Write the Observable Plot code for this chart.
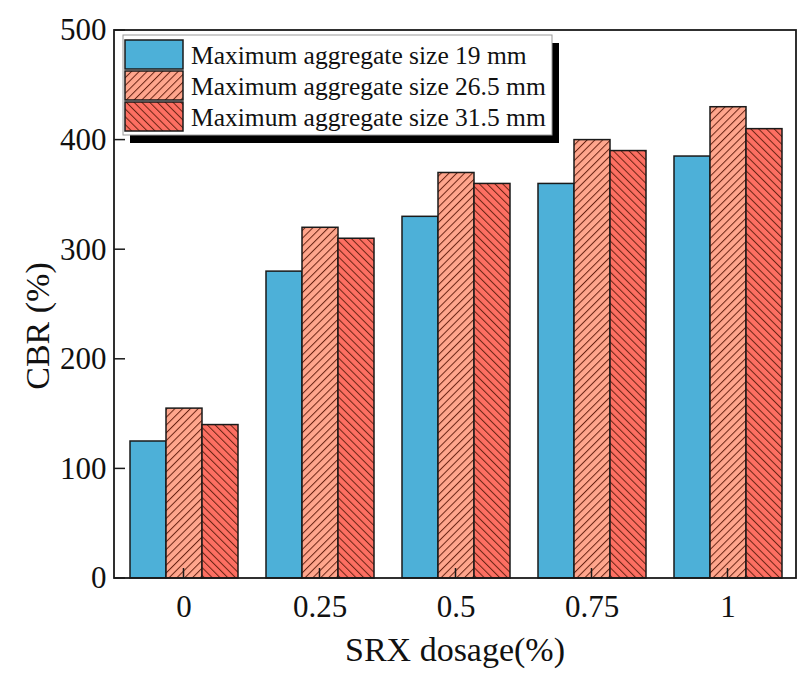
<!DOCTYPE html>
<html><head><meta charset="utf-8">
<script src="https://cdn.jsdelivr.net/npm/d3@7"></script>
<script src="https://cdn.jsdelivr.net/npm/@observablehq/plot@0.6"></script>
<style>body{margin:0;background:#fff}</style>
</head><body><div id="chart"></div>
<script>
const dosages = ["0", "0.25", "0.5", "0.75", "1"];
const seriesNames = ["Maximum aggregate size 19 mm", "Maximum aggregate size 26.5 mm", "Maximum aggregate size 31.5 mm"];
const cbr19 = [125, 280, 330, 360, 385];
const cbr265 = [155, 320, 370, 400, 430];
const cbr315 = [140, 310, 360, 390, 410];
const yTicks = [0, 100, 200, 300, 400, 500];
const seriesFills = ["#4db0d8", "url(#hatchA)", "url(#hatchB)"];
const xTitle = "SRX dosage(%)";
const yTitle = "CBR (%)";

const allSeries = [cbr19, cbr265, cbr315];
const data = [];
dosages.forEach((d, i) => allSeries.forEach((arr, j) => data.push({dosage: d, series: seriesNames[j], value: arr[i]})));

const W = 806, H = 674, ML = 114, MR = 10, MT = 30, MB = 96;
const FONT = "Liberation Serif, Times New Roman, serif";

const plot = Plot.plot({
  width: W, height: H,
  marginLeft: ML, marginRight: MR, marginTop: MT, marginBottom: MB,
  style: {fontFamily: FONT, fontSize: "31px", color: "#000", background: "#fff", overflow: "visible"},
  fx: {domain: dosages, paddingInner: 0.2, paddingOuter: 0.1, axis: "bottom", label: null, tickSize: 0, tickPadding: 16},
  x: {domain: seriesNames, padding: 0, axis: null},
  y: {domain: [0, 500], ticks: yTicks, tickSize: 0, tickPadding: 23, label: null},
  color: {domain: seriesNames, range: seriesFills},
  facet: {data, x: "dosage"},
  marks: [
    Plot.barY(data, {x: "series", y: "value", fill: "series", stroke: "#1a1a1a", strokeWidth: 1.5})
  ]
});
document.getElementById("chart").appendChild(plot);

const svg = d3.select(plot);
svg.selectAll("text").style("font-size", "31px").style("font-family", FONT).attr("fill", "#111");
const defs = svg.insert("defs", ":first-child");
function hatch(id, bg, angle) {
  const p = defs.append("pattern").attr("id", id).attr("patternUnits", "userSpaceOnUse")
    .attr("width", 5.5).attr("height", 5.5).attr("patternTransform", `rotate(${angle})`);
  p.append("rect").attr("width", 5.5).attr("height", 5.5).attr("fill", bg);
  p.append("line").attr("x1", 0.5).attr("y1", 0).attr("x2", 0.5).attr("y2", 5.5)
    .attr("stroke", "#6a2414").attr("stroke-width", 1);
}
hatch("hatchA", "#ffa68d", 45);
hatch("hatchB", "#fd6f62", -45);

const fx = plot.scale("fx"), y = plot.scale("y");
const g = svg.append("g");
// inward ticks
dosages.forEach(d => {
  const cx = fx.apply(d) + fx.bandwidth / 2;
  g.append("line").attr("x1", cx).attr("x2", cx).attr("y1", y.apply(0)).attr("y2", y.apply(0) - 10)
    .attr("stroke", "#1a1a1a").attr("stroke-width", 1.5);
});
yTicks.forEach(v => {
  g.append("line").attr("x1", ML).attr("x2", ML + 11).attr("y1", y.apply(v)).attr("y2", y.apply(v))
    .attr("stroke", "#1a1a1a").attr("stroke-width", 1.5);
});
// frame
g.append("rect").attr("x", ML).attr("y", MT).attr("width", W - ML - MR).attr("height", H - MT - MB)
  .attr("fill", "none").attr("stroke", "#1a1a1a").attr("stroke-width", 1.8);

// axis titles
svg.append("text").attr("x", (ML + W - MR) / 2).attr("y", 661).attr("text-anchor", "middle")
  .attr("font-family", FONT).attr("font-size", 34).attr("fill", "#111").text(xTitle);
svg.append("text").attr("transform", `translate(37,326) rotate(-90)`).attr("text-anchor", "middle")
  .attr("dominant-baseline", "central")
  .attr("font-family", FONT).attr("font-size", 34).attr("fill", "#111").text(yTitle);

// legend
const lg = svg.append("g").attr("text-anchor", "start");
const lx = ML + 9, ly = MT + 5, lw = 429, lh = 100;
lg.append("rect").attr("x", lx + 7).attr("y", ly + 8).attr("width", lw).attr("height", lh).attr("fill", "#000");
lg.append("rect").attr("x", lx).attr("y", ly).attr("width", lw).attr("height", lh)
  .attr("fill", "#fff").attr("stroke", "#999").attr("stroke-width", 1);
seriesNames.forEach((s, i) => {
  const ry = ly + 5 + i * 31;
  lg.append("rect").attr("x", lx + 2).attr("y", ry).attr("width", 58).attr("height", 29)
    .attr("fill", seriesFills[i]).attr("stroke", "#1a1a1a").attr("stroke-width", 1.5);
  lg.append("text").attr("x", lx + 68).attr("y", ry + 15).attr("dominant-baseline", "central")
    .attr("text-anchor", "start")
    .attr("font-family", FONT).attr("font-size", 25.5).attr("fill", "#111").text(s);
});
</script>
</body></html>
